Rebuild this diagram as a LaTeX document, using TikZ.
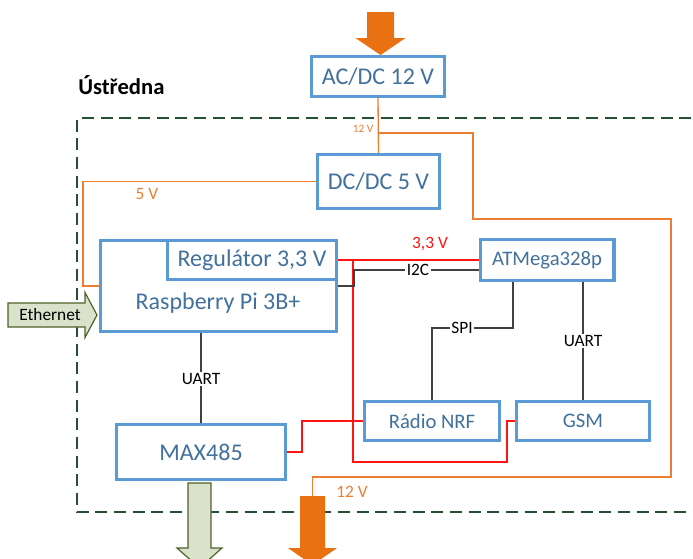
\documentclass[tikz,border=0pt]{standalone}
\usepackage{fontspec}
\setmainfont{Carlito}
\usepackage{tikz}
\usetikzlibrary{positioning}
\definecolor{boxblue}{RGB}{91,155,213}
\definecolor{boxtext}{RGB}{65,113,156}
\definecolor{pwrorange}{RGB}{237,125,49}
\definecolor{arrorange}{RGB}{233,113,18}
\definecolor{railred}{RGB}{255,20,20}
\definecolor{busgray}{RGB}{64,64,64}
\definecolor{framegreen}{RGB}{38,80,50}
\definecolor{lanfill}{RGB}{218,226,204}
\definecolor{landraw}{RGB}{79,98,40}
\tikzset{
  modul/.style={rectangle, draw=boxblue, fill=white, line width=2.5pt,
    text=boxtext, font=\fontsize{18}{21}\selectfont, inner sep=0pt},
  smallmodul/.style={modul, font=\fontsize{15.5}{18}\selectfont},
  frame/.style={draw=framegreen, line width=1.5pt, dash pattern=on 9pt off 5pt},
  pwrline/.style={draw=pwrorange, line width=1pt},
  railline/.style={draw=railred, line width=0.9pt},
  busline/.style={draw=busgray, line width=1.1pt},
  buslabel/.style={fill=white, inner sep=1pt, font=\fontsize{13}{15}\selectfont},
  voltlabel/.style={inner sep=0pt, font=\fontsize{13}{15}\selectfont},
  pwrarrow/.style={fill=arrorange, draw=none},
  lanarrow/.style={fill=lanfill, draw=landraw, line width=0.9pt}
}

\begin{document}
\begin{tikzpicture}[x=0.75pt, y=-0.75pt]
  \useasboundingbox (0,0) rectangle (693,558);
  \clip (0,0) rectangle (693,558);

  % Frame of the unit
  \draw[frame] (710,118) -- (77,118) -- (77,512) -- (710,512);
  \node[anchor=west, inner sep=0pt, font=\fontsize{17}{20}\selectfont\bfseries] (title) at (78,85) {Ústředna};

  % Power supply
  \node[modul, minimum width=99.5pt, minimum height=29.75pt] (acdc) at (378,76.5) {AC/DC 12 V};
  \node[modul, minimum width=91.25pt, minimum height=40.25pt] (dcdc) at (378.5,181.5) {DC/DC 5 V};

  % Raspberry Pi with regulator
  \node[modul, minimum width=176.75pt, minimum height=68pt] (rpi) at (218.5,286) {};
  \node[modul, minimum width=126.5pt, minimum height=29pt, anchor=north east] (reg) at (rpi.north east) {Regulátor 3,3 V};
  \node[text=boxtext, font=\fontsize{18}{21}\selectfont, inner sep=0pt] (rpitext) at (218,303) {Raspberry Pi 3B+};
  \node[modul, minimum width=126.5pt, minimum height=41pt] (max) at (201,452) {MAX485};

  % Microcontroller side
  \node[smallmodul, minimum width=100.25pt, minimum height=30.5pt] (atm) at (547,260) {ATMega328p};
  \node[smallmodul, minimum width=101pt, minimum height=29pt] (radio) at (432,421) {Rádio NRF};
  \node[smallmodul, minimum width=99.5pt, minimum height=29pt, right=10.5pt of radio] (gsm) {GSM};

  % 12 V and 5 V
  \coordinate (out12) at (312.5,496);
  \draw[pwrline] (acdc.south) -- (dcdc.north);
  \draw[pwrline] (acdc.south) ++(0,35) -- ++(95,0) -- ++(0,86) -- ++(198,0) -- ++(0,258) -| (out12);
  \node[text=pwrorange, inner sep=0pt, font=\fontsize{8.5}{10}\selectfont] (v12a) at (363,129) {12 V};
  \node[voltlabel, text=pwrorange] (v12b) at (352,492) {12 V};
  \draw[pwrline] (dcdc.west) -- ++(-233,0) |- (rpi.west);
  \node[voltlabel, text=pwrorange] (v5) at (147,194) {5 V};

  % 3,3 V rail
  \draw[railline] (reg.east) -- (atm.west);
  \node[voltlabel, text=railred] (v33) at (430,244) {3,3 V};
  \draw[railline] (353,260) -- ++(0,202) -| ++(154,-41) -- (gsm.west);
  \draw[railline] (max.east) -- ++(15,0) |- (radio.west);

  % Buses
  \draw[busline] (rpi.east) -- ++(16,0) |- ++(125,-16);
  \node[buslabel] (i2c) at (418,270) {I2C};
  \draw[busline] (atm.south) ++(-34,0) -- ++(0,46) -| (radio.north);
  \node[buslabel] (spi) at (462,328) {SPI};
  \draw[busline] (gsm.north) -- (gsm.north |- atm.south);
  \node[buslabel] (uartb) at (583,341) {UART};
  \draw[busline] (max.north) -- (max.north |- rpi.south);
  \node[buslabel] (uarta) at (201,379) {UART};

  % Block arrows
  \coordinate (pwrin) at (380.5,55);
  \fill[pwrarrow] (pwrin) -- ++(25,-17) -- ++(-11.5,0) -- ++(0,-26) -- ++(-27,0) -- ++(0,26) -- ++(-11.5,0) -- cycle;
  \fill[pwrarrow] (out12) ++(-12.5,0) -- ++(25,0) -- ++(0,52) -- ++(12,0) -- ++(-24.5,17) -- ++(-24.5,-17) -- ++(12,0) -- cycle;
  \coordinate (ethtip) at (97,315);
  \filldraw[lanarrow] (ethtip) -- ++(-12,-22.5) -- ++(0,10.5) -- ++(-77,0) -- ++(0,24) -- ++(77,0) -- ++(0,10.5) -- cycle;
  \node[font=\fontsize{13}{15}\selectfont, inner sep=0pt] (eth) at (50,315) {Ethernet};
  \coordinate (rsout) at (199.5,483);
  \filldraw[lanarrow] (rsout) ++(-11.5,0) -- ++(23,0) -- ++(0,65) -- ++(11,0) -- ++(-22.5,20) -- ++(-22.5,-20) -- ++(11,0) -- cycle;
\end{tikzpicture}
\end{document}
